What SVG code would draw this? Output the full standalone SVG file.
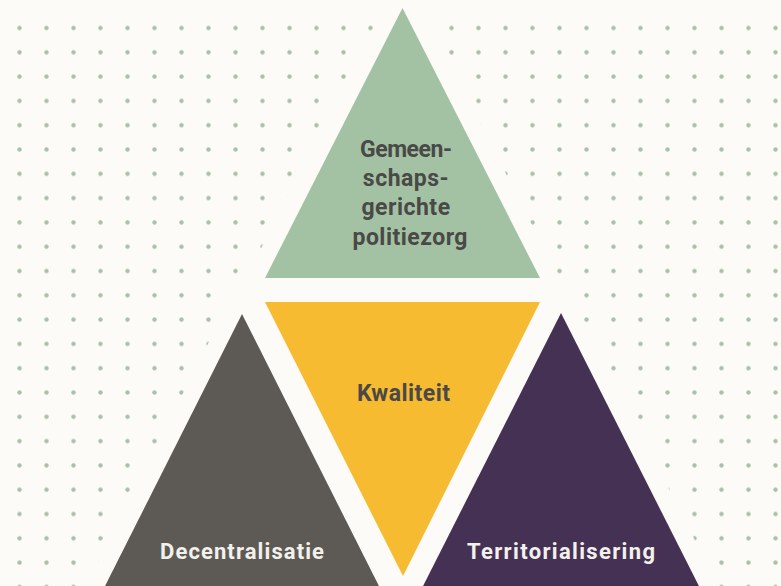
<svg xmlns="http://www.w3.org/2000/svg" width="781" height="586" viewBox="0 0 781 586">
  <style>
    .bg { fill: #fcfbf7; }
    .halo { fill: #fcfbf7; stroke: #fcfbf7; stroke-width: 34; stroke-linejoin: miter; }
    .lbl { font-family: Roboto, "Liberation Sans", "DejaVu Sans", sans-serif; font-weight: bold; text-anchor: middle; }
    .dark { fill: #4a4947; font-size: 23px; }
    .light { fill: #f3f1ec; font-size: 22px; }
  </style>
  <defs>
    <pattern id="dots" patternUnits="userSpaceOnUse" x="6" y="15.85" width="27" height="24.3">
      <circle cx="13.5" cy="12.15" r="2.2" fill="#a9c0a9"/>
    </pattern>
  </defs>
  <rect class="bg" x="0" y="0" width="781" height="586"/>
  <rect x="0" y="15.85" width="781" height="571" fill="url(#dots)"/>
  <g id="halos">
    <polygon class="halo" points="402.5,8 265,278 540,278"/>
    <polygon class="halo" points="265,302 540,302 403,576"/>
    <polygon class="halo" points="242,314 98,600 386,600"/>
    <polygon class="halo" points="561,313 416,600 706,600"/>
  </g>
  <g id="node-gemeenschapsgerichte-politiezorg">
    <polygon points="402.5,8 265,278 540,278" fill="#a3c2a3"/>
    <text class="lbl dark" x="406" y="157" textLength="92">Gemeen-</text>
    <text class="lbl dark" x="406" y="186" letter-spacing="0.5">schaps-</text>
    <text class="lbl dark" x="406" y="215" letter-spacing="0.5">gerichte</text>
    <text class="lbl dark" x="410" y="245" textLength="115">politiezorg</text>
  </g>
  <g id="node-kwaliteit">
    <polygon points="265,302 540,302 403,576" fill="#f6bb31"/>
    <text class="lbl dark" x="403.5" y="401" textLength="93">Kwaliteit</text>
  </g>
  <g id="node-decentralisatie">
    <polygon points="242,314 98,600 386,600" fill="#5d5a56"/>
    <text class="lbl light" x="242" y="559" textLength="164">Decentralisatie</text>
  </g>
  <g id="node-territorialisering">
    <polygon points="561,313 416,600 706,600" fill="#453154"/>
    <text class="lbl light" x="561" y="559" textLength="188">Territorialisering</text>
  </g>
  <g id="connectors"/>
</svg>
